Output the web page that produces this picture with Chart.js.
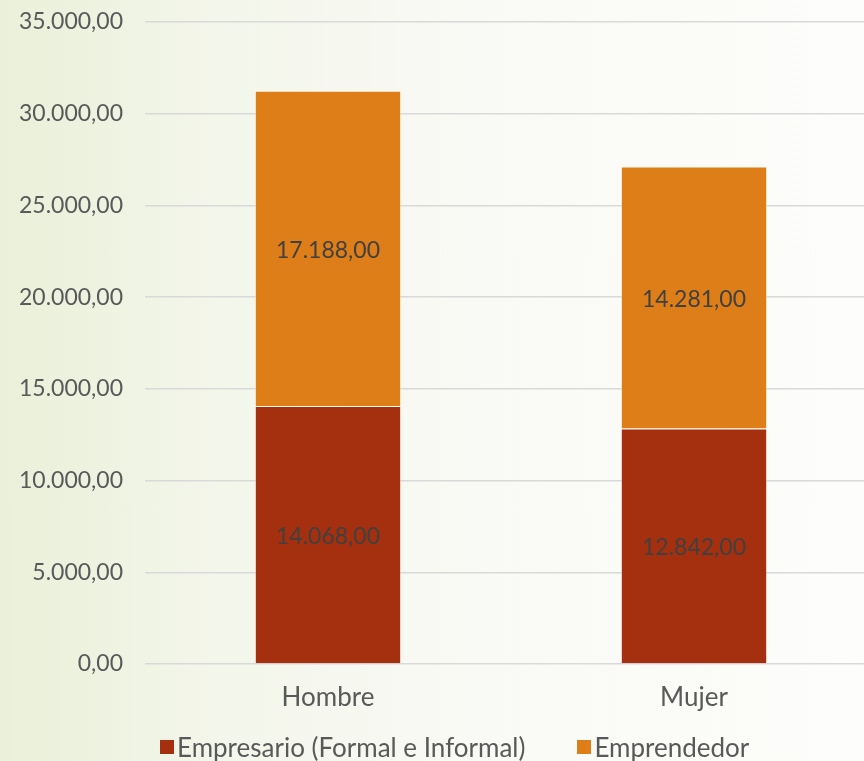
<!DOCTYPE html>
<html>
<head>
<meta charset="utf-8">
<script src="https://cdn.jsdelivr.net/npm/chart.js@4.4.1/dist/chart.umd.min.js"></script>
<style>
    html, body {
        margin: 0;
        padding: 0;
        width: 864px;
        height: 761px;
        overflow: hidden;
        background: linear-gradient(90deg, #eaf0d9 0%, #f3f6ea 25%, #f9faf5 55%, #fdfdfb 100%);
        font-family: Lato, "Liberation Sans", sans-serif;
    }
    #wrap {
        position: absolute;
        left: 0;
        top: 0;
        width: 877px;
        height: 761px;
    }
    #legend {
        position: absolute;
        left: 160px;
        top: 731px;
        height: 32px;
        display: flex;
        align-items: center;
        font-size: 26px;
        color: #595959;
        white-space: nowrap;
    }
    .item { display: flex; align-items: center; margin-right: 52px; }
    .box { width: 14px; height: 14px; margin-right: 3px; }
</style>
</head>
<body>
<div id="wrap"><canvas id="chart"></canvas></div>
<div id="legend"></div>
<script>
// Datos del gráfico
const categories = ["Hombre", "Mujer"];
const empresario = [14068, 12842];
const emprendedor = [17188, 14281];
const seriesNames = ["Empresario (Formal e Informal)", "Emprendedor"];
const seriesColors = ["#a5300f", "#de7e18"];
const yTicks = [0, 5000, 10000, 15000, 20000, 25000, 30000, 35000];

const fmt = (v) => v.toLocaleString("de-DE", { minimumFractionDigits: 2, maximumFractionDigits: 2 });
const FONT = "Lato, 'Liberation Sans', sans-serif";

// Etiquetas centradas dentro de cada barra
const barLabels = {
    id: "barLabels",
    afterDatasetsDraw(chart) {
        const ctx = chart.ctx;
        ctx.save();
        ctx.font = "23px " + FONT;
        ctx.fillStyle = "#404040";
        ctx.textAlign = "center";
        ctx.textBaseline = "middle";
        chart.data.datasets.forEach((ds, i) => {
            chart.getDatasetMeta(i).data.forEach((bar, j) => {
                const mid = (bar.y + bar.base) / 2;
                ctx.fillText(fmt(ds.data[j]), bar.x, mid + 2);
            });
        });
        ctx.restore();
    }
};

const chart = new Chart(document.getElementById("chart"), {
    type: "bar",
    data: {
        labels: categories,
        datasets: [
            {
                label: seriesNames[0],
                data: empresario,
                backgroundColor: seriesColors[0],
                borderColor: "rgba(255,255,255,0.5)",
                borderWidth: 1,
                categoryPercentage: 1,
                barPercentage: 0.4,
            },
            {
                label: seriesNames[1],
                data: emprendedor,
                backgroundColor: seriesColors[1],
                borderColor: "rgba(255,255,255,0.5)",
                borderWidth: 1,
                categoryPercentage: 1,
                barPercentage: 0.4,
            }
        ]
    },
    options: {
        responsive: true,
        maintainAspectRatio: false,
        animation: false,
        layout: { padding: { left: 0, top: 22, right: 0, bottom: 0 } },
        plugins: {
            tooltip: { enabled: false },
            legend: { display: false }
        },
        scales: {
            x: {
                stacked: true,
                grid: { display: false },
                border: { display: false },
                afterFit(scale) {
                    scale.height = 97;
                    scale.paddingLeft = 0;
                    scale.paddingRight = 0;
                },
                ticks: {
                    color: "#595959",
                    font: { family: FONT, size: 26 },
                    padding: 10,
                },
            },
            y: {
                stacked: true,
                min: 0,
                max: 35000,
                afterBuildTicks(scale) {
                    scale.ticks = yTicks.map((v) => ({ value: v }));
                },
                afterFit(scale) {
                    scale.width = 145;
                    scale.paddingTop = 0;
                    scale.paddingBottom = 0;
                },
                grid: {
                    color: "#d9d9d9",
                    lineWidth: 1.5,
                    drawTicks: false,
                },
                border: { display: false },
                ticks: {
                    color: "#595959",
                    font: { family: FONT, size: 23 },
                    padding: 22,
                    callback: (v) => fmt(v),
                },
            }
        }
    },
    plugins: [barLabels]
});

// Leyenda
const legendEl = document.getElementById("legend");
chart.data.datasets.forEach((ds) => {
    const item = document.createElement("div");
    item.className = "item";
    item.innerHTML = `<span class="box" style="background:${ds.backgroundColor}"></span><span>${ds.label}</span>`;
    legendEl.appendChild(item);
});
</script>
</body>
</html>
